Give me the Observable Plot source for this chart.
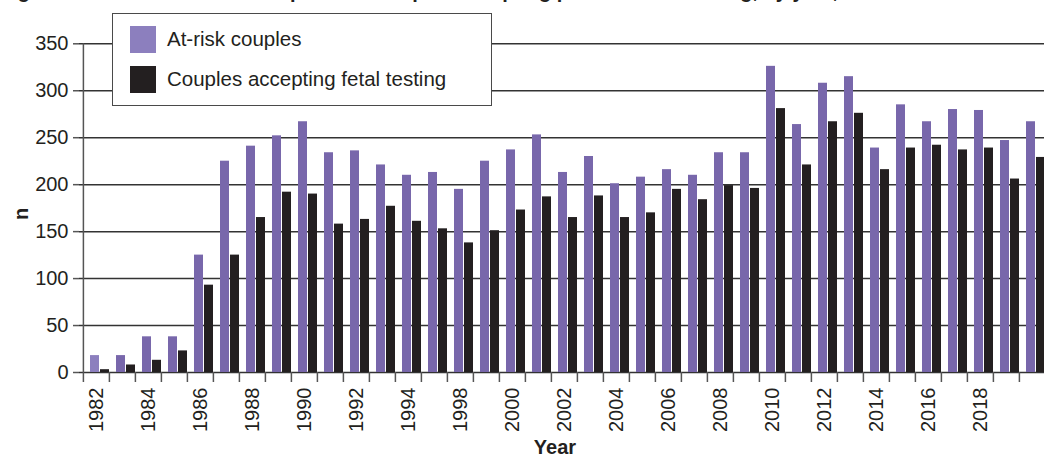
<!DOCTYPE html>
<html>
<head>
<meta charset="utf-8">
<script src="https://cdn.jsdelivr.net/npm/d3@7"></script>
<script src="https://cdn.jsdelivr.net/npm/@observablehq/plot@0.6"></script>
<style>
  html, body { margin: 0; padding: 0; background: #fff; overflow: hidden; }
  #wrap { position: relative; width: 1044px; height: 458px; overflow: hidden; font-family: "Liberation Sans", Arial, sans-serif; color: #231f20; }
  #title { position: absolute; left: 0; top: -19px; font-weight: bold; font-size: 20px; line-height: 20px; white-space: nowrap; }
  #legend { position: absolute; left: 112px; top: 13px; width: 378px; height: 91px; background: #fff; border: 1.5px solid #4a4a4a; box-sizing: content-box; }
  .item { position: absolute; left: 17px; display: flex; align-items: center; height: 40px; font-size: 20.5px; }
  .sw { width: 26px; height: 27px; margin-right: 11px; }
  #ylab { position: absolute; left: 21px; top: 214px; transform: translate(-50%, -50%) rotate(-90deg); font-weight: bold; font-size: 20px; }
  #xlab { position: absolute; left: 555px; top: 436px; transform: translateX(-50%); font-weight: bold; font-size: 20px; line-height: 22px; }
</style>
</head>
<body>
<div id="wrap">
  <div id="chart"></div>
  <div id="title"></div>
  <div id="legend"></div>
  <div id="ylab"></div>
  <div id="xlab"></div>
</div>
<script>
// ---- data ----
const years = ["1982","1983","1984","1985","1986","1987","1988","1989","1990","1991","1992","1993","1994","1995–97",
  "1998","1999","2000","2001","2002","2003","2004","2005","2006","2007","2008","2009","2010","2011","2012","2013",
  "2014","2015","2016","2017","2018","2019","2020"];
const atRisk = [18,18,38,38,125,225,241,252,267,234,236,221,210,213,195,225,237,253,213,230,201,208,216,210,234,234,326,264,308,315,239,285,267,280,279,247,267];
const accepting = [3,8,13,23,93,125,165,192,190,158,163,177,161,153,138,151,173,187,165,188,165,170,195,184,199,196,281,221,267,276,216,239,242,237,239,206,229];
const tickLabels = ["1982","1984","1986","1988","1990","1992","1994","1998","2000","2002","2004","2006","2008","2010","2012","2014","2016","2018"];
const yTicks = [0,50,100,150,200,250,300,350];
const seriesNames = ["At-risk couples", "Couples accepting fetal testing"];
const seriesColors = ["#7867ab", "#231f20"];
const titleText = "Figure 1 Number of at-risk couples and couples accepting prenatal fetal testing, by year, 1982–2020";
const xTitle = "Year";
const yTitle = "n";

const rows = years.map((year, i) => ({year, atRisk: atRisk[i], accepting: accepting[i]}));

const xRange = [79, 1048.4];
const bw = (xRange[1] - xRange[0]) / years.length;
const ink = "#231f20";
const axisGray = "#555";

const chart = Plot.plot({
  width: 1044,
  height: 458,
  marginLeft: 79,
  marginRight: 0,
  marginTop: 43,
  marginBottom: 86,
  style: {fontFamily: '"Liberation Sans", Arial, sans-serif', fontSize: "20px", color: ink, background: "transparent"},
  x: {type: "band", domain: years, range: xRange, padding: 0, label: null},
  y: {domain: [0, 350], range: [372, 43.3], label: null},
  marks: [
    Plot.gridY(yTicks, {stroke: "#333", strokeOpacity: 1, strokeWidth: 1.5}),
    Plot.barY(rows, {x: "year", y: "atRisk", fill: d => d.year === "1982" ? "#8c7fbe" : seriesColors[0],
      insetLeft: 7, insetRight: bw - 16.2}),
    Plot.barY(rows, {x: "year", y: "accepting", fill: seriesColors[1], insetLeft: 17, insetRight: 0}),
    Plot.ruleX([years[0]], {y1: 0, y2: 350, dx: -bw / 2, stroke: axisGray, strokeWidth: 1.5}),
    Plot.axisY({ticks: yTicks, tickSize: 6, tickPadding: 5, stroke: axisGray, strokeWidth: 1.5, fill: ink, fontSize: 20, label: null}),
    Plot.axisX({ticks: years, tickSize: 10, tickFormat: () => "", dx: -bw / 2, stroke: axisGray, strokeWidth: 1.5, label: null}),
    Plot.axisX({ticks: tickLabels, tickSize: 0, tickPadding: 15, tickRotate: -90, fill: ink, fontSize: 20, label: null})
  ]
});
document.getElementById("chart").appendChild(chart);

document.getElementById("title").textContent = titleText;
document.getElementById("xlab").textContent = xTitle;
document.getElementById("ylab").textContent = yTitle;

const legend = document.getElementById("legend");
seriesNames.forEach((name, i) => {
  const item = document.createElement("div");
  item.className = "item";
  item.style.top = (5 + i * 40) + "px";
  const sw = document.createElement("div");
  sw.className = "sw";
  sw.style.background = i === 0 ? "#8c7fbe" : seriesColors[i];
  const label = document.createElement("span");
  label.textContent = name;
  item.appendChild(sw);
  item.appendChild(label);
  legend.appendChild(item);
});
</script>
</body>
</html>
